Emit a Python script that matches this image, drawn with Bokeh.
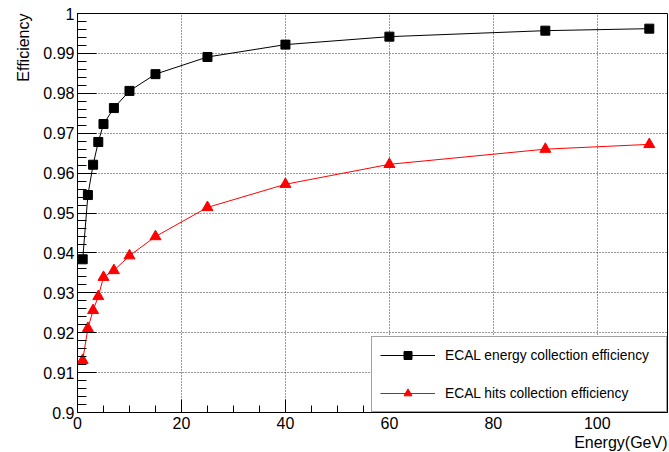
import math
from bokeh.plotting import figure
from bokeh.models import Range1d, FixedTicker, Title, Legend, LegendItem, CustomJSTickFormatter
from bokeh.embed import file_html
from bokeh.resources import INLINE

# ---- data ----
energy = [1, 2, 3, 4, 5, 7, 10, 15, 25, 40, 60, 90, 110]
energy_eff = [0.9384, 0.9545, 0.9621, 0.9678, 0.9723, 0.9763, 0.9806,
              0.9848, 0.9891, 0.9922, 0.9942, 0.9957, 0.9962]
hits_eff = [0.9131, 0.9211, 0.9256, 0.9291, 0.9339, 0.9356, 0.9393,
            0.9441, 0.9514, 0.9572, 0.9622, 0.9660, 0.9672]

x_ticks = [0, 20, 40, 60, 80, 100]
x_minor = [0, 5, 10, 15, 20, 25, 30, 35, 40, 45, 50, 55, 60, 65, 70, 75,
           80, 85, 90, 95, 100, 105, 110]
y_ticks = [0.90, 0.91, 0.92, 0.93, 0.94, 0.95, 0.96, 0.97, 0.98, 0.99, 1.00]
y_tick_labels = ["0.9", "0.91", "0.92", "0.93", "0.94", "0.95", "0.96",
                 "0.97", "0.98", "0.99", "1"]
y_minor = [round(0.9 + 0.002 * i, 3) for i in range(51)]

series_names = ["ECAL energy collection efficiency", "ECAL hits collection efficiency"]
x_title = "Energy(GeV)"
y_title = "Efficiency"

FONT = "Liberation Sans"
W, H = 669, 452
BL, BR, BT, BB = 77, 2, 13, 40

p = figure(width=W, height=H, output_backend="svg", toolbar_location=None,
           x_range=Range1d(0, 113.5), y_range=Range1d(0.9, 1.0),
           min_border_left=BL, min_border_right=BR, min_border_top=BT,
           min_border_bottom=BB)
p.background_fill_color = "white"
p.border_fill_color = "white"
p.outline_line_color = "black"
p.outline_line_width = 1

# axes
p.xaxis.ticker = FixedTicker(ticks=x_ticks, minor_ticks=x_minor)
p.yaxis.ticker = FixedTicker(ticks=y_ticks, minor_ticks=y_minor)
p.yaxis.formatter = CustomJSTickFormatter(
    args=dict(vals=y_ticks, labs=y_tick_labels),
    code="""
let best = 0; let d = 1e9;
for (let i = 0; i < vals.length; i++) { const e = Math.abs(vals[i] - tick); if (e < d) { d = e; best = i; } }
return labs[best];
""")
for ax in (p.xaxis[0], p.yaxis[0]):
    ax.axis_line_color = "black"
    ax.major_tick_line_color = "black"
    ax.minor_tick_line_color = "black"
    ax.major_tick_out = 0
    ax.minor_tick_out = 0
    ax.major_label_text_font = FONT
    ax.major_label_text_font_size = "16px"
    ax.major_label_text_color = "black"
p.xaxis.major_tick_in = 13
p.xaxis.minor_tick_in = 7
p.yaxis.major_tick_in = 19
p.yaxis.minor_tick_in = 9
p.xaxis.major_label_standoff = 4
p.yaxis.major_label_standoff = 3

# grid
for g in (p.xgrid[0], p.ygrid[0]):
    g.grid_line_color = "black"
    g.grid_line_alpha = 0.8
    g.grid_line_dash = "1 2"
    g.grid_line_width = 1

# series
l1 = p.line(energy, energy_eff, line_color="black", line_width=1)
s1 = p.scatter(energy, energy_eff, marker="square", size=9,
               fill_color="black", line_color="black")
l2 = p.line(energy, hits_eff, line_color="#ff0000", line_width=1)
s2 = p.scatter(energy, hits_eff, marker="triangle", size=11,
               fill_color="#ff0000", line_color="#ff0000")

legend = Legend(items=[LegendItem(label=series_names[0], renderers=[l1, s1]),
                       LegendItem(label=series_names[1], renderers=[l2, s2])],
                location="bottom_right")
legend.margin = 0
legend.padding = 8
legend.spacing = 18
legend.glyph_width = 55
legend.glyph_height = 20
legend.label_height = 20
legend.label_width = 213
legend.label_standoff = 10
legend.label_text_font = FONT
legend.label_text_font_size = "13.8px"
legend.label_text_color = "black"
legend.border_line_color = "#444444"
legend.border_line_width = 1
legend.background_fill_color = "white"
legend.background_fill_alpha = 1.0
p.add_layout(legend)

# axis titles (ROOT style: aligned to the axis ends)
p.add_layout(Title(text=x_title, align="right", standoff=0, offset=0,
                   text_font=FONT, text_font_size="16px", text_font_style="normal",
                   text_color="black"), "below")
p.add_layout(Title(text=y_title, align="right", standoff=18, offset=0,
                   text_font=FONT, text_font_size="16px", text_font_style="normal",
                   text_color="black"), "left")

open("out.html", "w").write(file_html(p, INLINE))
